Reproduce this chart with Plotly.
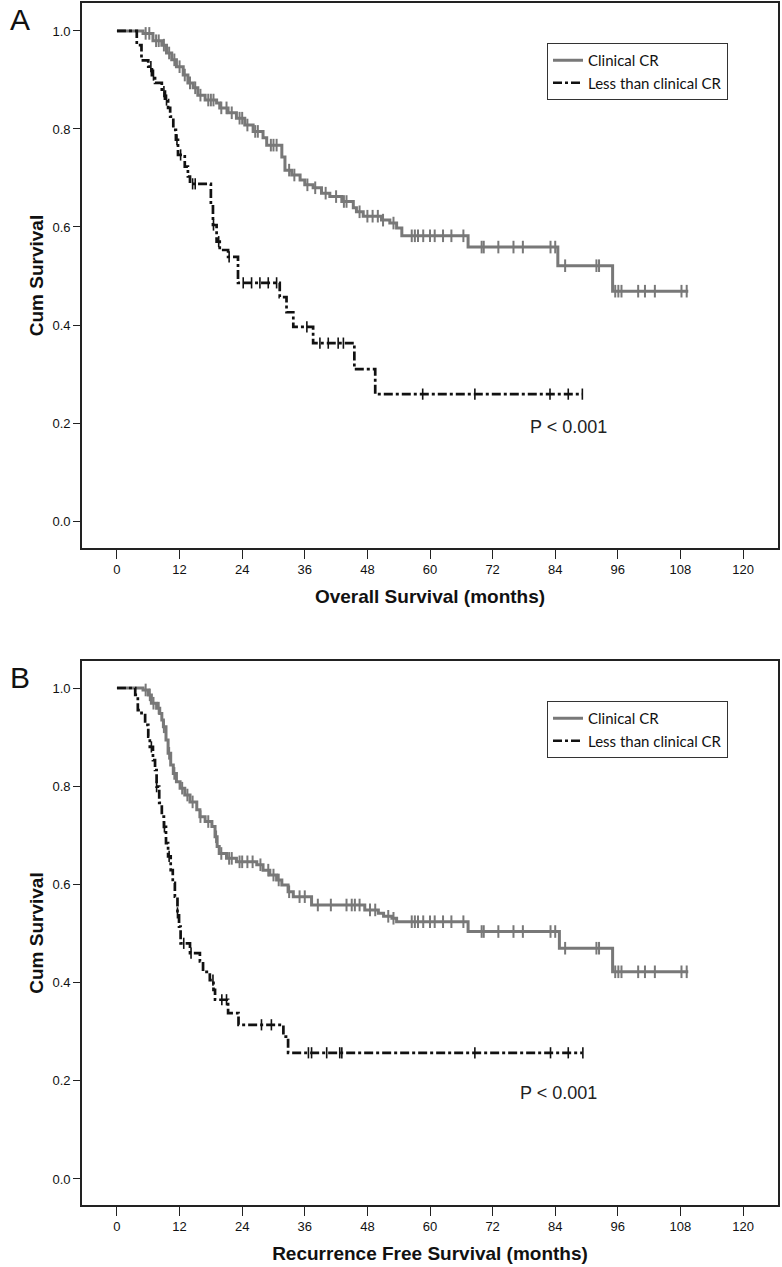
import plotly.graph_objects as go

# ---------------- Data ----------------
# Panel A: Overall survival
os_cr_t = [0, 5.0, 6.9, 8.6, 9.5, 10.5, 11.4, 12.7, 13.6, 14.6, 15.5, 16.9, 19.1, 19.7, 21.3,
           22.9, 24.5, 26.1, 28.0, 28.7, 31.6, 32.2, 33.5, 35.1, 36.0, 37.6, 39.2, 40.8, 43.1,
           45.3, 45.9, 47.2, 50.7, 52.3, 53.6, 54.6, 67.3, 84.5, 95.0, 109.5]
os_cr_s = [1.0, 0.995, 0.980, 0.971, 0.955, 0.941, 0.927, 0.910, 0.894, 0.884, 0.869, 0.859, 0.853,
           0.843, 0.833, 0.822, 0.808, 0.795, 0.782, 0.767, 0.743, 0.716, 0.706, 0.696, 0.686,
           0.680, 0.669, 0.662, 0.652, 0.639, 0.631, 0.622, 0.614, 0.608, 0.598, 0.582, 0.559,
           0.521, 0.469, 0.469]
os_cr_cens = [5.5, 6.2, 7.5, 8.0, 9.0, 10.0, 11.0, 12.0, 13.0, 14.0, 15.0, 16.0, 17.5, 18.0, 18.5,
              20.0, 21.0, 22.0, 23.5, 24.0, 25.0, 26.5, 27.0, 29.5, 30.0, 30.6, 33.0, 34.0, 36.5,
              38.0, 40.0, 42.0, 43.5, 44.0, 46.5, 48.0, 49.0, 50.0, 51.0, 53.0, 56.5, 57.1, 57.7,
              58.7, 60.0, 60.9, 62.5, 64.1, 66.4, 69.9, 70.3, 73.1, 76.0, 77.8, 83.1, 84.0, 85.9,
              91.9, 92.4, 95.5, 96.1, 96.7, 99.9, 101.2, 103.1, 108.2, 109.2]

os_lt_t = [0, 3.5, 3.8, 4.7, 6.0, 6.7, 7.3, 8.6, 9.2, 9.8, 10.2, 10.8, 11.3, 11.7, 13.0, 13.6, 14.0,
           18.0, 18.4, 19.1, 19.7, 21.3, 23.2, 31.2, 32.5, 33.8, 37.6, 45.5, 49.5, 89.3]
os_lt_s = [1.0, 1.0, 0.971, 0.940, 0.927, 0.910, 0.894, 0.876, 0.859, 0.843, 0.825, 0.798, 0.778,
           0.747, 0.723, 0.703, 0.688, 0.645, 0.604, 0.570, 0.553, 0.539, 0.486, 0.457, 0.426,
           0.396, 0.363, 0.310, 0.259, 0.259]
os_lt_cens = [6.5, 7.0, 9.0, 9.5, 11.5, 12.2, 14.5, 15.0, 18.5, 19.5, 21.5, 24.2, 25.8, 27.4, 29.0,
              30.6, 36.4, 38.9, 40.5, 42.4, 43.4, 58.6, 68.6, 83.0, 86.5, 89.2]

# Panel B: Recurrence free survival
rfs_cr_t = [0, 5.0, 6.0, 6.6, 7.6, 8.2, 8.6, 8.9, 9.4, 9.8, 10.3, 10.8, 11.4, 12.1, 13.0, 14.0,
            15.3, 15.9, 16.9, 18.2, 18.8, 19.2, 19.6, 21.0, 22.9, 26.8, 28.0, 29.3, 30.6, 31.6,
            32.8, 33.8, 37.3, 47.5, 50.1, 51.1, 52.7, 53.6, 67.3, 84.8, 95.0, 109.5]
rfs_cr_s = [1.0, 0.996, 0.986, 0.969, 0.959, 0.948, 0.935, 0.921, 0.894, 0.867, 0.843, 0.826,
            0.809, 0.796, 0.782, 0.768, 0.752, 0.738, 0.728, 0.718, 0.697, 0.677, 0.663, 0.653,
            0.646, 0.640, 0.629, 0.619, 0.609, 0.599, 0.585, 0.575, 0.558, 0.548, 0.541, 0.535,
            0.531, 0.524, 0.504, 0.470, 0.422, 0.422]
rfs_cr_cens = [5.5, 6.3, 7.0, 8.0, 9.0, 10.0, 11.0, 12.5, 13.5, 14.5, 16.0, 17.5, 19.0, 20.0, 21.5,
               22.0, 23.5, 24.0, 25.0, 26.0, 27.5, 29.0, 30.0, 31.0, 33.0, 35.0, 36.0, 38.5, 41.0,
               44.0, 45.0, 45.6, 46.5, 48.5, 49.5, 52.0, 53.0, 56.5, 57.1, 57.7, 58.7, 60.0, 60.9,
               62.5, 64.1, 66.4, 69.9, 70.3, 73.1, 76.0, 77.8, 83.1, 84.0, 85.9, 91.9, 92.4, 95.5,
               96.1, 96.7, 99.9, 101.2, 103.1, 108.2, 109.2]

rfs_lt_t = [0, 3.5, 4.0, 4.7, 5.4, 6.0, 6.3, 6.9, 7.3, 7.6, 8.1, 8.6, 9.0, 9.4, 9.8, 10.3, 10.7, 11.1,
            11.6, 11.9, 12.2, 14.0, 15.9, 16.5, 17.8, 18.5, 18.8, 21.3, 23.3, 31.9, 32.8, 89.2]
rfs_lt_s = [1.0, 0.986, 0.955, 0.949, 0.925, 0.901, 0.880, 0.853, 0.833, 0.799, 0.766, 0.738, 0.717,
            0.684, 0.657, 0.629, 0.603, 0.575, 0.542, 0.514, 0.480, 0.460, 0.443, 0.422, 0.405,
            0.385, 0.365, 0.338, 0.314, 0.290, 0.257, 0.257]
rfs_lt_cens = [6.6, 7.6, 9.1, 10.0, 11.6, 12.8, 14.2, 18.4, 20.1, 21.0, 27.7, 29.6, 36.7, 37.3, 40.2,
               42.7, 43.1, 68.6, 83.1, 86.5, 89.3]

x_ticks = [0, 12, 24, 36, 48, 60, 72, 84, 96, 108, 120]
y_ticks = [0.0, 0.2, 0.4, 0.6, 0.8, 1.0]
series_names = ["Clinical CR", "Less than clinical CR"]
x_titles = ["Overall Survival (months)", "Recurrence Free Survival (months)"]
y_title = "Cum Survival"
panel_letters = ["A", "B"]
p_text = "P < 0.001"

# ---------------- Styles ----------------
GRAY = "#787878"
BLACK = "#111111"
W, H = 782, 1267
ARIAL = "Liberation Sans, Arial, sans-serif"


def step_value(ts, ss, t):
    v = ss[0]
    for ti, si in zip(ts, ss):
        if ti <= t:
            v = si
        else:
            break
    return v


fig = go.Figure()

panels = [
    dict(xa="x", ya="y", cr=(os_cr_t, os_cr_s, os_cr_cens), lt=(os_lt_t, os_lt_s, os_lt_cens),
         legend="legend", p=(86.5, 0.192)),
    dict(xa="x2", ya="y2", cr=(rfs_cr_t, rfs_cr_s, rfs_cr_cens), lt=(rfs_lt_t, rfs_lt_s, rfs_lt_cens),
         legend="legend2", p=(84.6, 0.176)),
]

for p in panels:
    # gray: clinical CR
    t, s, c = p["cr"]
    fig.add_trace(go.Scatter(x=t, y=s, mode="lines", line=dict(color=GRAY, width=3, shape="hv"),
                             name=series_names[0], xaxis=p["xa"], yaxis=p["ya"], legend=p["legend"]))
    fig.add_trace(go.Scatter(x=c, y=[step_value(t, s, v) for v in c], mode="markers",
                             marker=dict(symbol="line-ns", size=9, line=dict(color=GRAY, width=2)),
                             showlegend=False, xaxis=p["xa"], yaxis=p["ya"], hoverinfo="skip"))
    # black: less than clinical CR
    t, s, c = p["lt"]
    fig.add_trace(go.Scatter(x=t, y=s, mode="lines",
                             line=dict(color=BLACK, width=2.7, shape="hv", dash="9px,3px,3px,3px"),
                             name=series_names[1], xaxis=p["xa"], yaxis=p["ya"], legend=p["legend"]))
    fig.add_trace(go.Scatter(x=c, y=[step_value(t, s, v) for v in c], mode="markers",
                             marker=dict(symbol="line-ns", size=8, line=dict(color=BLACK, width=1.6)),
                             showlegend=False, xaxis=p["xa"], yaxis=p["ya"], hoverinfo="skip"))
    fig.add_annotation(x=p["p"][0], y=p["p"][1], xref=p["xa"], yref=p["ya"], text=p_text,
                       showarrow=False, font=dict(family=ARIAL, size=18, color="#222"))

x_dom = [82 / W, 778 / W]
yA = [1 - 548 / H, 1 - 3 / H]
yB = [1 - 1205 / H, 1 - 661 / H]

axis_common = dict(showline=True, linecolor="#222", linewidth=1.6, mirror=True, ticks="outside",
                   tickcolor="#222", tickwidth=1.4, showgrid=False, zeroline=False,
                   tickfont=dict(family=ARIAL, size=13, color="#111"))

title_font = dict(family=ARIAL, size=19, color="#111")

for i, (xa, ya, ydom, yrng) in enumerate([("xaxis", "yaxis", yA, [-0.055, 1.057]),
                                           ("xaxis2", "yaxis2", yB, [-0.053, 1.055])]):
    fig.update_layout(**{
        xa: dict(axis_common, domain=x_dom, range=[-6.7, 126.7], tickvals=x_ticks, ticklen=9,
                 anchor="y" if i == 0 else "y2",
                 title=dict(text="<b>" + x_titles[i] + "</b>", font=title_font, standoff=13)),
        ya: dict(axis_common, domain=ydom, range=yrng, tickvals=y_ticks, ticktext=[f"{v:.1f}" for v in y_ticks],
                 ticklen=7, anchor="x" if i == 0 else "x2",
                 title=dict(text="<b>" + y_title + "</b>", font=title_font, standoff=4)),
    })

legend_common = dict(bgcolor="white", bordercolor="#333", borderwidth=1,
                     font=dict(family="Lato, Open Sans", size=15, color="#111"),
                     xanchor="left", yanchor="top", tracegroupgap=0, itemwidth=30)
fig.update_layout(
    legend=dict(legend_common, x=547 / W, y=1 - 43 / H),
    legend2=dict(legend_common, x=547 / W, y=1 - 701 / H),
)

fig.add_annotation(x=8 / W, y=1 - 19 / H, xref="paper", yref="paper", text=panel_letters[0],
                   showarrow=False, xanchor="left", yanchor="middle",
                   font=dict(family=ARIAL, size=30, color="#111"))
fig.add_annotation(x=8 / W, y=1 - 677 / H, xref="paper", yref="paper", text=panel_letters[1],
                   showarrow=False, xanchor="left", yanchor="middle",
                   font=dict(family=ARIAL, size=30, color="#111"))

fig.update_layout(width=W, height=H, margin=dict(l=0, r=0, t=0, b=0),
                  paper_bgcolor="white", plot_bgcolor="white")

fig.write_html("out.html", config={"displayModeBar": False},
               post_script="document.body.style.margin='0px';")
